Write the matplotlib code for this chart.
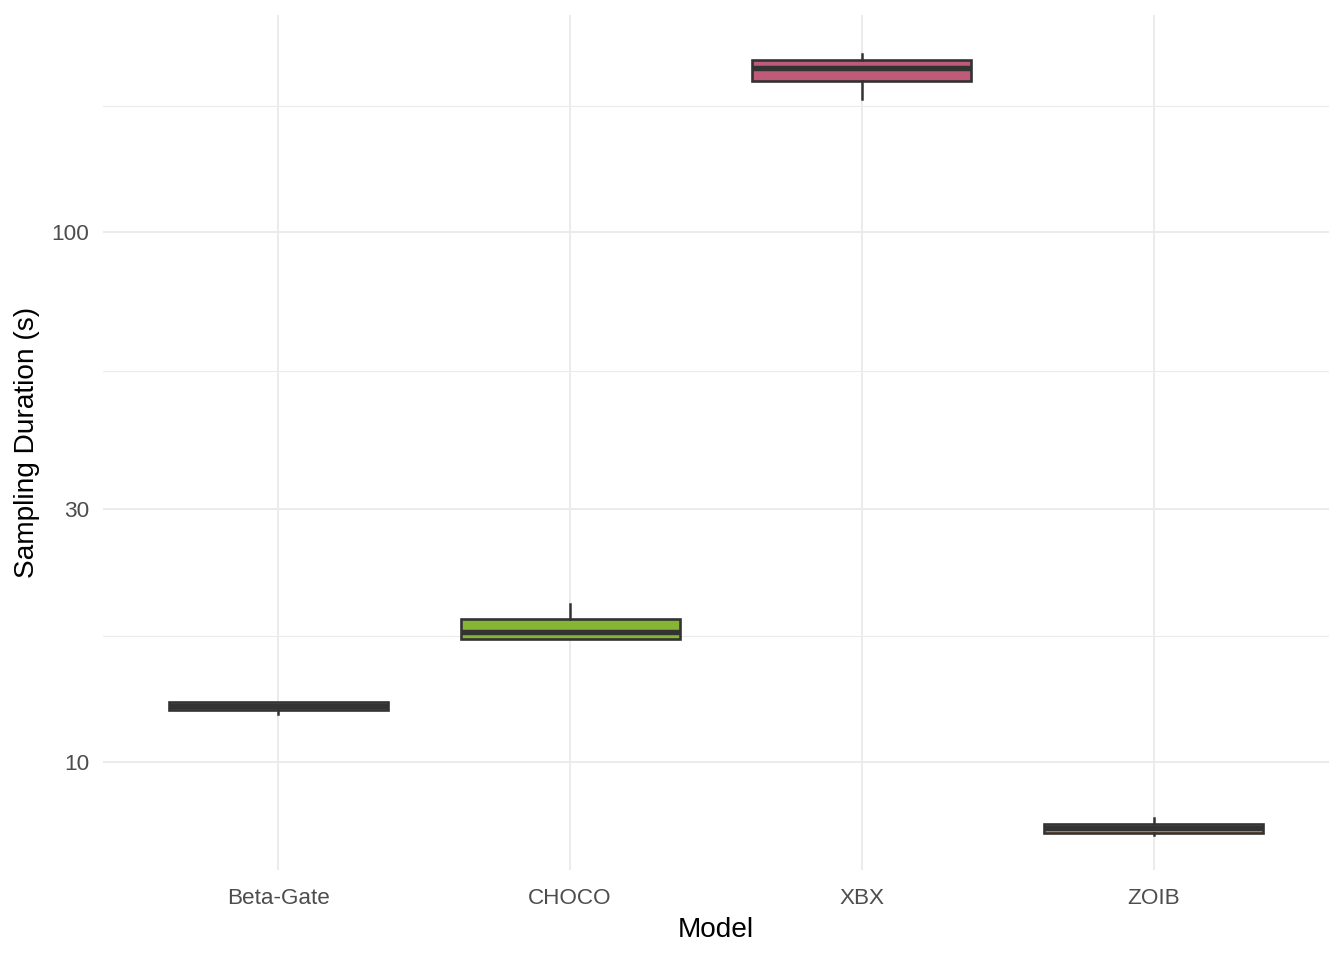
import matplotlib
matplotlib.use("Agg")
import matplotlib.pyplot as plt
import numpy as np

# Data (seconds, log scale)
models = ["Beta-Gate", "CHOCO", "XBX", "ZOIB"]
q1 = [12.54, 17.07, 193.1, 7.36]
median = [12.75, 17.59, 203.5, 7.50]
q3 = [12.95, 18.61, 210.7, 7.65]
whisker_low = [12.32, 17.07, 178.2, 7.28]
whisker_high = [12.95, 19.87, 216.7, 7.84]
fill_colors = ["#4E8FC7", "#86B534", "#C05A79", "#E08A3C"]

major_ticks = [10, 30, 100]
minor_ticks = [np.sqrt(10 * 30), np.sqrt(30 * 100), np.sqrt(100 * 300)]

plt.rcParams["font.family"] = ["Liberation Sans", "DejaVu Sans"]

fig = plt.figure(figsize=(13.44, 9.6), dpi=100)
ax = fig.add_axes([103 / 1344, 90 / 960, (1329 - 103) / 1344, (870 - 15) / 960])

positions = np.arange(1, len(models) + 1)
stats = []
for i, m in enumerate(models):
    stats.append(dict(label=m, q1=q1[i], med=median[i], q3=q3[i],
                      whislo=whisker_low[i], whishi=whisker_high[i], fliers=[]))

edge = "#333333"
bp = ax.bxp(stats, positions=positions, widths=0.75, patch_artist=True,
            showcaps=False, showfliers=False,
            boxprops=dict(edgecolor=edge, linewidth=1.9),
            whiskerprops=dict(color=edge, linewidth=1.8),
            medianprops=dict(color=edge, linewidth=3.9, solid_capstyle="butt"),
            zorder=3)
for patch, c in zip(bp["boxes"], fill_colors):
    patch.set_facecolor(c)

ax.set_yscale("log")
ax.set_ylim(6.254, 256.7)
ax.set_xlim(0.4, 4.6)

ax.set_yticks(major_ticks)
ax.set_yticklabels([str(t) for t in major_ticks])
ax.set_yticks(minor_ticks, minor=True)
ax.yaxis.set_minor_formatter(matplotlib.ticker.NullFormatter())
ax.set_xticks(positions)
ax.set_xticklabels(models)

ax.grid(which="major", axis="both", color="#EBEBEB", linewidth=1.4, zorder=0)
ax.grid(which="minor", axis="y", color="#EBEBEB", linewidth=0.8, zorder=0)
ax.set_axisbelow(True)

for s in ax.spines.values():
    s.set_visible(False)
ax.tick_params(which="both", length=0)
ax.tick_params(axis="both", labelsize=16.2, labelcolor="#4D4D4D")
ax.tick_params(axis="x", pad=13)
ax.tick_params(axis="y", pad=10)

ax.set_xlabel("Model", fontsize=20.2, color="black", labelpad=6)
ax.set_ylabel("Sampling Duration (s)", fontsize=20.2, color="black", labelpad=8)

fig.savefig("out.png", dpi=100, facecolor="white")
